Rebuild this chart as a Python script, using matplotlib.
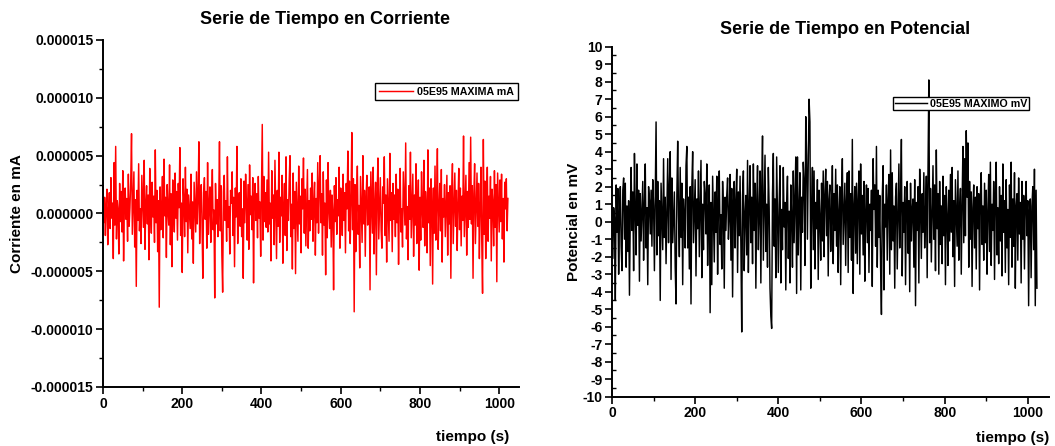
import numpy as np
import matplotlib
matplotlib.use("Agg")
import matplotlib.pyplot as plt
from matplotlib.ticker import MultipleLocator, FuncFormatter

plt.rcParams['font.family'] = ['Liberation Sans', 'DejaVu Sans']
plt.rcParams['font.weight'] = 'bold'

# time axis (s), one sample every 2 s
tiempo = np.arange(512) * 2

# current values in units of 1e-6 mA
corriente_e6 = [
    2.3, -0.8, 1.4, -1.9, 0.6, 2.1, -2.7, 0.2, 1.8, -1.3, 3.1, -0.4, 0.9, -3.9, 4.4, -1.0,
    5.8, -2.2, 1.1, 0.3, -3.5, 2.6, -0.7, 1.9, -1.6, 3.7, -4.1, 0.8, 2.2, -0.5, 1.3, -2.4,
    3.4, -1.1, 0.5, 2.8, 6.9, -1.8, 0.9, 3.6, -2.9, 1.2, -6.3, 2.0, -0.6, 4.3, -1.5, 0.4,
    -2.6, 3.3, 1.0, -1.2, 4.6, -3.1, 0.7, 2.4, -0.9, 1.6, -4.0, 3.9, 0.1, -1.7, 2.7, -0.3,
    1.5, -2.5, 5.5, -0.8, 2.0, -3.3, 1.1, -8.1, 2.3, -1.4, 0.6, 3.2, -2.1, 4.7, -0.2, 1.4,
    -3.8, 2.5, 0.3, -1.0, 4.2, -2.7, 1.7, -4.6, 2.9, 0.8, -1.6, 3.5, -0.4, 1.9, -2.3, 2.6,
    0.5, 5.7, -1.9, 0.9, -5.1, 3.0, 1.2, -2.0, 4.0, -0.7, 2.1, -3.4, 1.6, 0.2, -1.3, 3.4,
    -2.2, 1.0, -4.3, 2.7, 0.4, -1.6, 3.6, -0.9, 1.4, 6.2, -2.6, 0.8, 2.5, -1.1, -5.6, 1.8,
    3.1, -0.5, 1.9, -3.0, 4.4, -1.8, 0.7, 2.3, -2.5, 1.0, 3.8, -1.4, 0.3, -7.3, 2.6, -0.9,
    1.2, -2.0, 0.5, 6.2, -1.5, 2.4, -3.6, -6.8, 1.9, 3.3, -0.6, 1.1, -2.4, 4.9, -1.2, 0.6,
    -3.5, 2.0, 0.9, 3.6, -1.9, 1.4, -4.6, 2.2, -0.3, 5.8, -2.6, 0.7, 1.8, -1.1, 3.0, -2.0,
    0.4, -5.6, 2.8, -0.8, 3.4, 1.0, -2.3, 2.5, -3.1, 4.2, -0.1, 1.5, -1.4, 3.1, -6.0, 1.3,
    2.6, -0.6, 1.7, -2.1, 3.2, -0.4, 1.0, -3.7, 2.0, 7.7, -2.3, 3.2, -0.7, 1.8, -1.2, 2.9,
    -1.6, 5.3, -0.9, 0.9, -4.1, 3.7, -0.4, 1.6, -2.7, 4.6, 0.5, -3.9, 2.0, -1.1, 5.3, -2.5,
    1.4, -0.2, 3.3, -4.3, 0.7, 2.6, -1.9, 4.9, -3.2, 1.2, -0.6, 2.9, 5.0, -2.0, 0.8, -4.8,
    3.5, -1.3, 1.9, -5.2, 2.7, 0.1, -2.4, 4.1, -0.9, 1.5, -3.4, 3.0, 0.4, 4.8, -1.7, 2.1,
    -2.8, 0.6, 3.8, -3.0, 1.1, -1.5, 2.2, -0.5, 3.5, -2.4, 0.9, 2.7, -3.6, 1.3, -0.8, 4.4,
    -1.7, 2.4, 5.0, -0.8, 1.7, -3.6, 3.6, -1.0, 0.9, -5.3, 2.9, -2.1, 4.4, 0.3, -1.3, 2.0,
    -2.9, 1.6, 0.2, -6.6, 2.4, -0.7, 3.1, -1.8, 1.2, -0.2, 4.0, -3.0, 2.2, 0.5, -1.9, 3.4,
    -0.6, 1.8, -3.4, 2.6, 0.4, 5.4, -1.5, 2.8, -2.6, 1.1, 7.0, -1.4, 3.0, -8.5, 2.5, -3.3,
    1.2, 4.1, -1.8, 0.7, -4.7, 3.2, 0.2, -2.5, 5.0, -0.9, 2.0, -3.7, 1.4, 3.3, -1.0, 0.5,
    2.3, -6.6, 3.6, 1.0, -1.7, 4.0, -3.5, 0.8, 2.7, -5.3, 1.9, 4.8, -2.2, 0.5, 3.1, -1.4,
    -3.0, 2.3, 0.9, 4.9, -1.9, 1.6, -4.2, 3.0, 0.1, -2.4, 5.2, -0.6, 1.8, -3.3, 2.6, -0.5,
    1.6, -2.0, 3.4, -0.8, 2.1, -4.4, 0.9, 3.9, -1.6, 0.4, -2.9, 3.6, 1.2, -1.0, 6.1, -2.2,
    0.6, -4.0, 2.4, -0.5, 5.3, -2.1, 0.8, 3.4, -3.7, 1.6, -1.0, 4.3, -2.6, 0.6, 2.9, -4.9,
    1.4, -2.3, 3.6, 0.2, -1.2, 4.6, -2.8, 1.9, 0.5, -3.4, 5.5, -0.8, 2.2, -4.5, 3.0, 0.9,
    -6.1, 2.2, -1.7, 4.1, -2.3, 1.0, 5.6, -3.1, 0.4, 2.6, -1.5, 3.8, -4.2, 1.3, -0.3, 2.5,
    -2.0, 0.7, 3.3, -3.6, 1.8, -0.9, 2.4, -5.6, 1.7, 4.3, -2.6, 0.3, 3.5, -1.1, 2.0, -3.2,
    0.8, 3.9, -1.4, 2.2, -2.8, 1.5, -0.6, 6.7, -2.0, 0.7, 3.3, -3.6, 1.9, -1.2, 4.4, -0.5,
    6.6, -0.9, 2.4, -5.6, 1.7, 4.3, -2.6, 0.3, 3.5, -1.1, 2.6, -3.9, 0.6, 4.0, -2.4, -6.9,
    6.4, -1.8, 2.8, -3.9, 0.6, 4.0, -2.4, 1.5, -0.4, 3.2, -4.1, 2.1, 0.9, -2.8, 3.7, -1.2,
    2.5, -5.9, 3.5, 1.0, -1.6, 2.9, -0.7, 3.4, -2.2, 1.3, -4.2, 2.7, 0.4, 3.0, -1.5, 1.3,
]

# potential values in mV
potencial_mV = [
    0.7, -2.1, 0.8, 0.2, -4.5, 2.1, -0.6, 1.9, -3.0, 0.3, 2.0, -1.4, -2.8, 1.8, 2.5, -1.0,
    2.2, -2.6, 0.9, -1.7, 1.2, -4.2, 0.4, 3.1, -0.5, 1.7, -2.8, 3.9, 0.6, -1.9, 3.3, -0.2,
    1.8, -3.4, 1.6, -1.1, 0.5, 2.3, -2.2, 1.0, 3.3, -1.5, 0.8, -3.6, 2.0, 1.2, -0.7, 1.8,
    -1.4, 2.4, 0.9, -2.8, 1.3, 5.7, -1.9, 2.3, -0.8, 1.2, -4.5, 2.2, 0.4, -1.6, 3.6, -0.9,
    1.4, -2.4, 0.6, 3.6, -1.2, 2.0, 4.0, -3.3, 2.5, -1.2, 0.3, 1.7, -2.6, -4.7, 1.5, 4.6,
    0.4, -2.0, 3.1, -0.9, 2.2, -3.6, 1.3, 0.2, -1.5, 3.2, 4.3, -1.5, 1.4, -2.7, 2.0, -4.7,
    2.0, 4.0, -1.2, 0.5, 2.4, -3.1, 1.3, -0.4, 2.9, -2.0, 0.8, 3.5, -3.2, 1.0, -1.6, 2.3,
    1.5, -0.7, 3.3, -2.5, 0.6, 2.1, -5.2, 1.1, -3.6, 2.6, 0.2, -2.3, 1.7, -0.6, 2.6, -3.0,
    0.9, 2.9, -1.3, 0.4, -2.7, 2.3, 0.7, -3.8, 1.4, -0.5, 1.5, 2.5, -1.0, 0.3, 2.7, -2.2,
    1.9, -4.3, 0.8, 2.3, -1.5, 1.2, 3.0, -2.9, 1.7, -0.8, 2.6, -1.4, -6.3, 1.5, 2.9, -2.8,
    0.4, 1.5, -1.9, 3.5, -2.9, 0.9, 3.2, -1.2, 1.4, -2.4, 3.3, -0.5, 2.2, -3.8, 1.1, 3.2,
    -1.6, 0.5, 2.9, -3.5, 1.8, 4.9, -2.2, 0.9, 3.8, -1.7, 1.0, -2.6, 3.1, 0.8, -3.8, -5.4,
    -6.1, 1.6, 3.9, -1.4, 1.3, -3.2, 3.7, 0.2, -2.9, 1.0, 3.2, -3.5, 0.7, -1.6, 3.1, -0.3,
    1.1, -3.9, 1.0, 2.6, -2.1, 0.6, -3.5, 2.1, 0.3, -2.6, 2.9, -1.2, 1.1, 3.7, -4.1, 3.7,
    -1.9, 0.8, 2.8, -3.9, 1.4, -0.6, 3.4, 2.3, -2.5, 6.0, 3.8, -1.0, 3.3, 7.0, 5.7, -3.8,
    0.8, 3.1, -1.6, 2.9, -2.7, 1.1, -0.4, 2.4, -3.3, 1.8, 0.2, -2.2, 2.2, -1.1, 2.9, -2.0,
    1.5, 3.0, -0.8, 2.3, -3.1, 1.3, 2.1, -1.7, 0.4, 3.2, -2.4, 1.6, -0.5, 3.0, -1.4, 2.1,
    -2.9, 0.6, 2.0, -3.6, 1.4, 3.6, -1.3, 0.5, 2.2, -2.5, 1.2, 2.8, -2.9, 2.9, -0.9, 1.6,
    -2.2, 4.7, -4.1, 0.8, 2.0, -1.8, 2.2, -2.4, 1.3, 2.9, -3.0, 3.3, -0.7, 1.5, -1.9, 2.3,
    -3.4, 0.5, 2.1, -1.2, 1.9, -2.9, 1.0, -0.5, 1.8, -3.7, 3.6, 0.7, 2.1, -1.4, 4.3, -2.6,
    1.8, -0.9, 1.5, -2.6, -5.3, 1.4, 3.2, -3.9, 1.0, -0.3, 2.1, -2.2, 1.3, 2.7, -3.0, 4.1,
    -1.6, 2.8, -1.1, 0.9, -3.8, 1.4, 2.2, -2.7, 0.5, 3.3, -1.5, 1.2, 4.7, -3.1, 1.1, -0.6,
    2.0, -3.6, 0.9, 2.3, -1.8, 1.2, -4.0, 2.2, -1.1, 0.7, 1.3, -2.6, 2.4, -4.8, 1.1, -0.5,
    2.0, -3.5, 3.0, 0.8, -2.1, 1.6, -0.6, 2.8, -1.5, 0.4, 2.6, -3.2, 2.9, 8.1, -1.2, 1.9,
    -2.3, 0.6, 3.2, -1.0, 2.1, -2.8, 4.1, -0.4, 1.6, -3.0, 2.3, -1.3, 0.9, -2.4, 2.6, -0.8,
    1.5, -3.6, 2.0, 0.3, -2.5, 1.8, -1.1, 2.7, -0.6, 3.1, -2.0, 1.2, -3.7, 2.4, 0.5, -1.4,
    2.9, -2.2, 0.7, 1.9, -3.0, 1.1, 4.3, -1.2, 3.6, -0.8, 5.2, 1.4, 4.5, -2.6, 2.3, -1.0,
    1.7, -3.7, 0.8, 2.1, -1.5, 1.4, -2.7, 2.0, -0.4, 1.6, -3.9, 1.5, 2.8, -1.3, 0.9, -2.2,
    2.2, -1.2, 1.8, -3.0, 0.6, 2.7, -1.7, 3.4, -2.5, 1.0, -0.5, 2.3, -3.3, 1.3, 3.4, -1.9,
    0.8, -2.4, 2.0, -1.1, 1.5, -3.1, 3.3, -0.6, 1.2, -2.9, 2.4, -1.5, 0.7, -3.6, 2.1, -0.9,
    3.4, -2.6, 1.3, -1.4, 2.8, -3.8, 0.9, 1.6, -2.2, 2.5, -0.7, 1.1, -3.5, 2.3, -1.0, 1.5,
    -2.7, 1.0, 2.3, -0.8, 1.2, -4.8, 0.5, 1.3, -3.2, 0.9, 2.0, -1.6, 3.0, -4.8, 1.8, -3.8,
]

W, H = 1055, 446
fig = plt.figure(figsize=(W / 100, H / 100), dpi=100)


def style_axes(ax):
    for s in ['top', 'right']:
        ax.spines[s].set_visible(False)
    for s in ['left', 'bottom']:
        ax.spines[s].set_linewidth(1.4)
    ax.tick_params(which='major', direction='out', length=5, width=1.2,
                   labelsize=10, pad=2)
    ax.tick_params(which='minor', direction='out', length=3, width=1.0)
    for lbl in ax.get_xticklabels() + ax.get_yticklabels():
        lbl.set_fontweight('bold')


# ---------- left: current ----------
ax1 = fig.add_axes([103 / W, 1 - 387 / H, (519 - 103) / W, (387 - 40) / H])
ax1.plot(tiempo, np.array(corriente_e6) * 1e-6, color='#ff0000', lw=1.05,
         label='05E95 MAXIMA mA')
ax1.set_xlim(0, 1050)
ax1.set_ylim(-1.5e-5, 1.5e-5)
ax1.xaxis.set_major_locator(MultipleLocator(200))
ax1.xaxis.set_minor_locator(MultipleLocator(100))
ax1.yaxis.set_major_locator(MultipleLocator(5e-6))
ax1.yaxis.set_minor_locator(MultipleLocator(2.5e-6))
ax1.yaxis.set_major_formatter(FuncFormatter(lambda v, p: '%.6f' % (0.0 if abs(v) < 1e-12 else v)))
style_axes(ax1)
fig.text(325 / W, 1 - 20 / H, 'Serie de Tiempo en Corriente', ha='center', va='center',
         fontsize=13, fontweight='bold')
fig.text(17 / W, 1 - 213.5 / H, 'Corriente en mA', ha='center', va='center',
         rotation=90, fontsize=11, fontweight='bold')
fig.text(509 / W, 1 - 437 / H, 'tiempo (s)', ha='right', va='center',
         fontsize=11, fontweight='bold')
leg1 = ax1.legend(loc='upper left', bbox_to_anchor=(375 / W, 1 - 83 / H),
                  bbox_transform=fig.transFigure, borderaxespad=0,
                  prop={'weight': 'bold', 'size': 7.7}, fancybox=False,
                  edgecolor='black', framealpha=1, handlelength=3.2,
                  handletextpad=0.4, borderpad=0.35)
leg1.get_frame().set_linewidth(1.0)

# ---------- right: potential ----------
ax2 = fig.add_axes([612 / W, 1 - 396.7 / H, (1049 - 612) / W, 350 / H])
ax2.plot(tiempo, potencial_mV, color='black', lw=1.05, label='05E95 MAXIMO mV')
ax2.set_xlim(0, 1051)
ax2.set_ylim(-10, 10)
ax2.xaxis.set_major_locator(MultipleLocator(200))
ax2.xaxis.set_minor_locator(MultipleLocator(100))
ax2.yaxis.set_major_locator(MultipleLocator(1))
ax2.yaxis.set_minor_locator(MultipleLocator(0.5))
ax2.yaxis.set_major_formatter(FuncFormatter(lambda v, p: '%d' % round(v)))
style_axes(ax2)
ax2.tick_params(axis='y', which='minor', direction='in', length=3)
fig.text(845 / W, 1 - 30 / H, 'Serie de Tiempo en Potencial', ha='center', va='center',
         fontsize=13, fontweight='bold')
fig.text(574 / W, 1 - 222 / H, 'Potencial en mV', ha='center', va='center',
         rotation=90, fontsize=11, fontweight='bold')
fig.text(1049 / W, 1 - 438 / H, 'tiempo (s)', ha='right', va='center',
         fontsize=11, fontweight='bold')
leg2 = ax2.legend(loc='upper left', bbox_to_anchor=(893 / W, 1 - 97 / H),
                  bbox_transform=fig.transFigure, borderaxespad=0,
                  prop={'weight': 'bold', 'size': 7.7}, fancybox=False,
                  edgecolor='black', framealpha=1, handlelength=3.0,
                  handletextpad=0.3, borderpad=0.15)
leg2.get_frame().set_linewidth(1.0)

fig.savefig('out.png', dpi=100)
